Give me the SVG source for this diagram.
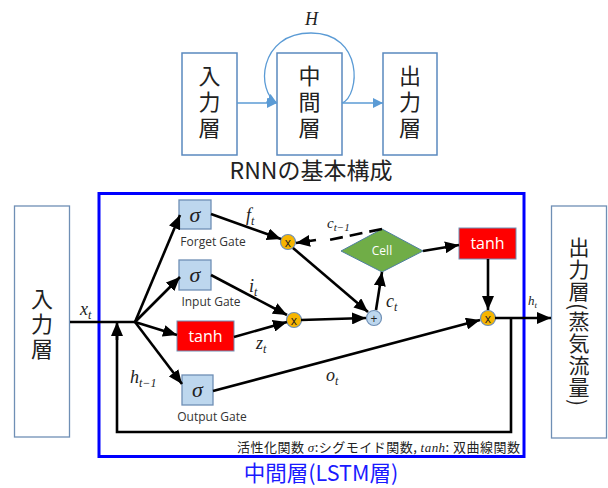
<svg xmlns="http://www.w3.org/2000/svg" width="608" height="488" viewBox="0 0 608 488">
<style>
.jp{font-family:"Noto Sans CJK JP","Noto Sans",sans-serif;fill:#222}
.vt{writing-mode:vertical-rl;text-anchor:middle}
.m{font-family:"Liberation Serif","DejaVu Serif",serif;font-style:italic;fill:#222}
.lbl{font-family:"Open Sans","Noto Sans",sans-serif;font-size:12px;fill:#333;text-anchor:middle}
.box{fill:#fff;stroke:#6f8fb5;stroke-width:1.3}
.rnnbox{fill:#fff;stroke:#5a89bf;stroke-width:1.5}
.sig{fill:#bdd7ee;stroke:#6f8fb5;stroke-width:1.3}
.red{fill:#ff0000;stroke:#6f8fb5;stroke-width:1}
.mul{fill:#f7b500;stroke:#6f8fb5;stroke-width:1.2}
.mx{font-family:"Open Sans","Noto Sans",sans-serif;font-size:12px;fill:#222;text-anchor:middle}
.w{font-family:"Open Sans","Noto Sans",sans-serif;fill:#fff;text-anchor:middle}
.ln{stroke:#000;stroke-width:2.6;fill:none}
.ar{stroke:#000;stroke-width:2.6;fill:none;marker-end:url(#ah)}
.blue{stroke:#5b9bd5;stroke-width:1.3;fill:none;marker-end:url(#ahb)}
</style>
<defs>
<marker id="ah" markerUnits="userSpaceOnUse" viewBox="0 0 14 12" markerWidth="14" markerHeight="12" refX="14" refY="6" orient="auto"><path d="M0,0 L14,6 L0,12 z" fill="#000"/></marker>
<marker id="ahb" markerUnits="userSpaceOnUse" viewBox="0 0 10 10" markerWidth="10" markerHeight="10" refX="10" refY="5" orient="auto"><path d="M0,0 L10,5 L0,10 z" fill="#5b9bd5"/></marker>
</defs>

<!-- Top RNN diagram -->
<g id="rnn-input"><rect class="rnnbox" x="182" y="53" width="55" height="102"/><text class="jp vt" x="209.5" y="104" font-size="22" letter-spacing="4">入力層</text></g>
<g id="rnn-middle"><rect class="rnnbox" x="277" y="53" width="65" height="102"/><text class="jp vt" x="309.5" y="104" font-size="22" letter-spacing="4">中間層</text></g>
<g id="rnn-output"><rect class="rnnbox" x="383" y="53" width="54" height="102"/><text class="jp vt" x="410" y="104" font-size="22" letter-spacing="4">出力層</text></g>
<g id="rnn-connectors">
<line class="blue" x1="237" y1="103" x2="277" y2="103"/>
<line class="blue" x1="342" y1="103" x2="383" y2="103"/>
<path class="blue" d="M342,103 C360,96 364,33 311,33 C258,33 256,92 277,103"/>
<text class="m" x="305" y="25" font-size="18">H</text>
</g>
<text class="jp" x="311" y="179" font-size="23" text-anchor="middle">RNNの基本構成</text>

<!-- LSTM frame -->
<rect x="99" y="193.5" width="425" height="263" fill="none" stroke="#0000ff" stroke-width="3"/>
<text x="321" y="481" font-size="21.5" text-anchor="middle" style="font-family:'Noto Sans CJK JP','Noto Sans',sans-serif;fill:#1a1aff">中間層(LSTM層)</text>

<g id="input-layer"><rect class="box" x="14.5" y="206" width="55" height="231"/><text class="jp vt" x="42" y="325" font-size="22" letter-spacing="3">入力層</text></g>
<g id="output-layer"><rect class="box" x="551.5" y="206" width="55" height="232"/><text class="jp vt" x="579" y="322" font-size="21" letter-spacing="1">出力層(蒸気流量)</text></g>

<g id="forget-gate"><rect class="sig" x="179" y="200" width="32" height="29"/><text class="m" x="195" y="222" font-size="22" text-anchor="middle">σ</text><text class="lbl" x="213" y="246">Forget Gate</text></g>
<g id="input-gate"><rect class="sig" x="179" y="260" width="32" height="30"/><text class="m" x="195" y="282" font-size="22" text-anchor="middle">σ</text><text class="lbl" x="211" y="306">Input Gate</text></g>
<g id="tanh-z"><rect class="red" x="177" y="321" width="57" height="30"/><text class="w" x="205.5" y="342" font-size="16">tanh</text></g>
<g id="output-gate"><rect class="sig" x="182" y="375" width="31" height="30"/><text class="m" x="197.5" y="397" font-size="22" text-anchor="middle">σ</text><text class="lbl" x="212" y="421">Output Gate</text></g>
<g id="cell"><polygon points="341,251 382,229 423,251 382,272" fill="#70ad47" stroke="#4f7f9f" stroke-width="1"/><text class="w" x="382" y="255" font-size="12">Cell</text></g>
<g id="tanh-c"><rect class="red" x="459" y="228" width="57" height="31"/><text class="w" x="487.5" y="249" font-size="16">tanh</text></g>
<g id="mul-f"><circle class="mul" cx="288" cy="242" r="7.5"/><text class="mx" x="288" y="246.5">x</text></g>
<g id="mul-i"><circle class="mul" cx="294" cy="320" r="7.5"/><text class="mx" x="294" y="324.5">x</text></g>
<g id="mul-o"><circle class="mul" cx="488" cy="318" r="7.5"/><text class="mx" x="488" y="322.5">x</text></g>
<g id="plus"><circle cx="374" cy="318" r="7.5" fill="#bdd7ee" stroke="#6f8fb5" stroke-width="1.2"/><text class="mx" x="374" y="322.5">+</text></g>

<g id="connectors">
<line class="ln" x1="70" y1="322" x2="135" y2="322"/>
<line class="ar" x1="135" y1="322" x2="180" y2="215"/>
<line class="ar" x1="135" y1="322" x2="180" y2="277"/>
<line class="ar" x1="135" y1="322" x2="177" y2="335"/>
<line class="ar" x1="135" y1="322" x2="182" y2="384"/>
<line class="ar" x1="211" y1="214" x2="281" y2="239"/>
<line class="ar" x1="211" y1="275" x2="287" y2="315"/>
<line class="ar" x1="234" y1="337" x2="287" y2="322"/>
<line class="ar" x1="301" y1="320" x2="366" y2="318"/>
<line class="ar" x1="293" y1="248" x2="368" y2="312"/>
<line class="ar" x1="376" y1="310" x2="382" y2="272"/>
<path class="ln" d="M382,229 L329,240" stroke-dasharray="13,7"/>
<line class="ar" x1="316" y1="240" x2="296" y2="243"/>
<line class="ar" x1="423" y1="251" x2="459" y2="245"/>
<line class="ar" x1="488" y1="259" x2="488" y2="310"/>
<line class="ar" x1="213" y1="391" x2="480" y2="320"/>
<line class="ar" x1="495" y1="318" x2="551" y2="318"/>
<path class="ln" d="M511,318 L511,432 L117,432 L117,336"/>
<line class="ar" x1="117" y1="340" x2="117" y2="322"/>
</g>

<g id="labels">
<text class="m" x="80" y="315" font-size="18">x<tspan font-size="12" dy="4">t</tspan></text>
<text class="m" x="246" y="221" font-size="18">f<tspan font-size="12" dy="4">t</tspan></text>
<text class="m" x="249" y="292" font-size="18">i<tspan font-size="12" dy="4">t</tspan></text>
<text class="m" x="256" y="349" font-size="18">z<tspan font-size="12" dy="4">t</tspan></text>
<text class="m" x="130" y="383" font-size="18">h<tspan font-size="12" dy="4">t−1</tspan></text>
<text class="m" x="326" y="381" font-size="18">o<tspan font-size="12" dy="4">t</tspan></text>
<text class="m" x="386" y="307" font-size="18">c<tspan font-size="12" dy="4">t</tspan></text>
<text class="m" x="327" y="228" font-size="15">c<tspan font-size="11" dy="3">t−1</tspan></text>
<text class="m" x="528" y="305" font-size="13">h<tspan font-size="9" dy="3">t</tspan></text>
<text x="237" y="452" font-size="13" textLength="283" lengthAdjust="spacing" style="font-family:'Noto Sans CJK JP','Noto Sans',sans-serif;fill:#222">活性化関数 <tspan class="m">σ</tspan>:シグモイド関数, <tspan class="m">tanh</tspan>: 双曲線関数</text>
</g>
</svg>
